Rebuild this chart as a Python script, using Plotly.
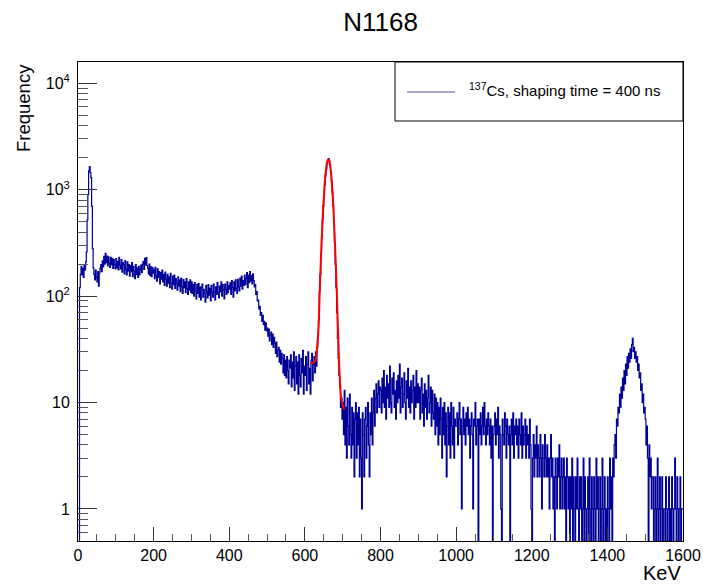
import numpy as np
import plotly.graph_objects as go

# ---------------- data ----------------
BIN_WIDTH_KEV = 2
X_MIN_KEV, X_MAX_KEV = 0, 1600

counts_0_100 = [0, 0, 120, 160, 190, 158, 182, 150, 196, 176,
                210, 260, 520, 900, 1500, 1650, 1450, 1300, 700, 280,
                184, 160, 142, 176, 150, 136, 170, 124, 164, 182,
                198, 170, 214, 188, 236, 200, 252, 206, 238, 192,
                234, 204, 186, 232, 198, 226, 182, 220, 196, 180]
counts_100_200 = [225, 184, 212, 176, 232, 196, 180, 220, 168, 206,
                  198, 162, 216, 180, 158, 210, 172, 198, 154, 194,
                  170, 206, 152, 190, 172, 146, 198, 160, 184, 150,
                  190, 158, 178, 196, 166, 200, 212, 178, 226, 196,
                  230, 194, 182, 162, 200, 156, 188, 152, 186, 164]
counts_200_300 = [178, 146, 186, 156, 138, 180, 150, 170, 130, 166,
                  144, 176, 136, 160, 126, 168, 144, 124, 160, 132,
                  152, 120, 164, 132, 116, 154, 128, 158, 118, 146,
                  130, 114, 152, 124, 142, 110, 148, 122, 106, 144,
                  120, 136, 108, 146, 118, 104, 136, 114, 142, 108]
counts_300_400 = [136, 106, 128, 100, 134, 112, 94, 128, 106, 132,
                  98, 122, 92, 120, 130, 98, 116, 106, 88, 126,
                  110, 96, 128, 102, 118, 90, 126, 108, 98, 130,
                  110, 92, 122, 104, 134, 108, 96, 124, 110, 136,
                  100, 128, 114, 94, 130, 116, 104, 136, 108, 126]
counts_400_500 = [116, 134, 104, 140, 120, 98, 136, 112, 142, 118,
                  106, 144, 122, 112, 148, 124, 154, 116, 140, 126,
                  158, 128, 146, 166, 120, 158, 134, 170, 138, 156,
                  130, 162, 140, 122, 128, 104, 110, 90, 92, 76,
                  80, 66, 70, 58, 66, 54, 58, 48, 56, 47]
counts_500_600 = [50, 42, 49, 38, 43, 46, 35, 44, 33, 41,
                  36, 29, 37, 27, 31, 33, 24, 31, 23, 29,
                  26, 19, 28, 18, 25, 17, 27, 20, 15, 25,
                  21, 28, 14, 24, 17, 30, 13, 22, 27, 15,
                  24, 12, 28, 18, 14, 26, 19, 31, 12, 22]
counts_600_700 = [18, 27, 13, 23, 30, 15, 21, 12, 25, 29,
                  16, 23, 27, 19, 30, 22, 33, 42, 60, 110,
                  160, 250, 360, 520, 700, 900, 1120, 1350, 1560, 1750,
                  1900, 1960, 1870, 1720, 1480, 1200, 950, 700, 480, 320,
                  200, 120, 70, 40, 26, 18, 14, 9, 11, 7]
counts_700_800 = [10, 5, 13, 4, 9, 3, 11, 6, 4, 12,
                  5, 3, 9, 4, 8, 2, 7, 10, 3, 8,
                  4, 9, 2, 7, 3, 1, 8, 5, 2, 7,
                  9, 3, 6, 10, 4, 2, 8, 5, 11, 4,
                  8, 13, 6, 11, 15, 8, 12, 16, 9, 14]
counts_800_900 = [13, 8, 17, 10, 20, 9, 14, 7, 18, 11,
                  15, 9, 22, 10, 8, 17, 12, 19, 9, 13,
                  7, 16, 10, 18, 11, 23, 8, 14, 17, 9,
                  12, 19, 10, 7, 16, 11, 21, 9, 14, 8,
                  16, 10, 13, 18, 7, 14, 9, 20, 10, 15]
counts_900_1000 = [10, 14, 7, 13, 17, 8, 12, 6, 15, 9,
                   13, 7, 11, 18, 8, 10, 14, 6, 13, 8,
                   7, 12, 5, 11, 6, 10, 4, 9, 5, 11,
                   7, 3, 9, 5, 10, 4, 8, 2, 6, 9,
                   4, 8, 3, 10, 6, 4, 9, 3, 7, 6]
counts_1000_1100 = [6, 8, 4, 7, 10, 5, 7, 1, 6, 9,
                    5, 7, 4, 8, 6, 9, 5, 7, 3, 6,
                    8, 5, 1, 7, 6, 10, 4, 6, 7, 0,
                    7, 5, 8, 4, 6, 9, 5, 10, 6, 4,
                    7, 5, 8, 6, 4, 7, 3, 6, 0, 5]
counts_1100_1200 = [6, 8, 4, 7, 5, 9, 3, 6, 5, 1,
                    0, 7, 5, 4, 8, 6, 3, 7, 5, 4,
                    6, 0, 5, 7, 4, 8, 3, 6, 5, 7,
                    4, 6, 3, 7, 5, 4, 8, 3, 6, 4,
                    5, 7, 3, 6, 4, 5, 3, 7, 4, 1]
counts_1200_1300 = [0, 3, 5, 2, 4, 3, 6, 2, 4, 3,
                    2, 5, 3, 1, 4, 3, 2, 5, 3, 2,
                    4, 2, 3, 1, 3, 5, 2, 3, 1, 2,
                    0, 3, 2, 1, 3, 2, 4, 1, 2, 3,
                    1, 2, 3, 1, 2, 0, 3, 2, 1, 2]
counts_1300_1400 = [0, 2, 1, 3, 0, 2, 1, 0, 2, 1,
                    3, 1, 0, 2, 1, 2, 0, 1, 3, 0,
                    2, 1, 0, 1, 2, 0, 3, 1, 0, 2,
                    1, 0, 2, 1, 0, 3, 1, 2, 0, 1,
                    2, 0, 1, 3, 0, 1, 2, 0, 1, 0]
counts_1400_1500 = [2, 1, 0, 3, 1, 2, 0, 3, 2, 4,
                    5, 3, 7, 6, 9, 8, 12, 9, 14, 11,
                    17, 13, 20, 15, 23, 18, 27, 21, 29, 24,
                    32, 26, 35, 40, 30, 33, 26, 30, 24, 27,
                    20, 23, 17, 19, 13, 15, 10, 12, 8, 9]
counts_1500_1600 = [7, 4, 6, 3, 0, 4, 2, 3, 1, 2,
                    2, 0, 1, 2, 0, 1, 3, 0, 1, 2,
                    0, 1, 2, 0, 1, 1, 0, 2, 1, 0,
                    1, 2, 0, 1, 0, 2, 1, 0, 1, 3,
                    1, 0, 2, 1, 0, 1, 2, 0, 1, 1]

# Gaussian fit of the 662 keV photopeak
fit_kev = [616, 622, 628, 632, 636, 640, 644, 648, 652, 656, 660, 662,
           664, 668, 672, 676, 680, 684, 688, 692, 696, 700, 704]
fit_counts = [24, 23.5, 25, 32, 50, 134, 307, 627, 1080, 1570, 1880, 1920,
              1880, 1560, 1070, 610, 290, 120, 44, 18, 11, 9.5, 8.6]

title_text = "N1168"
legend_text = "<sup>137</sup>Cs, shaping time = 400 ns"
x_title = "KeV"
y_title = "Frequency"
x_tick_vals = [0, 200, 400, 600, 800, 1000, 1200, 1400, 1600]
y_tick_vals = [1, 10, 100, 1000, 10000]
y_tick_text = ["1", "10", "10<sup>2</sup>", "10<sup>3</sup>", "10<sup>4</sup>"]

# ---------------- build ----------------
counts = np.concatenate([counts_0_100, counts_100_200, counts_200_300, counts_300_400,
                         counts_400_500, counts_500_600, counts_600_700, counts_700_800,
                         counts_800_900, counts_900_1000, counts_1000_1100,
                         counts_1100_1200, counts_1200_1300, counts_1300_1400,
                         counts_1400_1500, counts_1500_1600]).astype(float)
edges = np.arange(X_MIN_KEV, X_MAX_KEV + BIN_WIDTH_KEV, BIN_WIDTH_KEV)
# empty bins are drawn down to (below) the frame bottom, as ROOT does on a log axis
y_draw = np.where(counts > 0, counts, 0.1)
x_step = edges
y_step = np.append(y_draw, y_draw[-1])

FONT = "Liberation Sans, Arial, Helvetica, sans-serif"
HIST_COLOR = "#000099"

fig = go.Figure()
fig.add_trace(go.Scatter(x=x_step, y=y_step, mode="lines",
                         line=dict(color=HIST_COLOR, width=1.2, shape="hv"),
                         showlegend=False, hoverinfo="skip"))
fig.add_trace(go.Scatter(x=fit_kev, y=fit_counts, mode="lines",
                         line=dict(color="#ff0000", width=2, shape="spline"),
                         showlegend=False, hoverinfo="skip"))

W, H = 708, 584
L, R, T, B = 78, 25, 62, 43
pw, ph = W - L - R, H - T - B

def px(x):
    return (x - L) / pw

def py(y):
    return (H - B - y) / ph

minor_y = []
for d in range(-1, 5):
    for m in range(2, 10):
        v = m * 10.0 ** d
        if 0.5 <= v <= 15800:
            minor_y.append(v)

fig.update_layout(
    width=W, height=H,
    margin=dict(l=L, r=R, t=T, b=B, autoexpand=False),
    paper_bgcolor="white", plot_bgcolor="white",
    font=dict(family=FONT, color="black", size=16),
    title=dict(text=title_text, x=(L + pw * px(380.5)) / W, xanchor="center",
               y=1 - 22 / H, yanchor="middle", font=dict(size=26, family=FONT)),
    xaxis=dict(range=[X_MIN_KEV, X_MAX_KEV], showgrid=False, zeroline=False,
               showline=True, linecolor="black", linewidth=1, mirror=True,
               ticks="inside", ticklen=14, tickcolor="#333", tickwidth=1,
               tickvals=x_tick_vals, tickfont=dict(size=16), automargin=False,
               minor=dict(ticks="inside", ticklen=7, tickcolor="#555", dtick=50, showgrid=False)),
    yaxis=dict(type="log", range=[np.log10(0.5), 4.2], showgrid=False, zeroline=False,
               showline=True, linecolor="black", linewidth=1, mirror=True,
               ticks="inside", ticklen=19, tickcolor="#333", tickwidth=1,
               tickvals=y_tick_vals, ticktext=y_tick_text, tickfont=dict(size=16),
               ticklabelstandoff=4, automargin=False,
               minor=dict(ticks="inside", ticklen=10, tickcolor="#555",
                          tickvals=minor_y, showgrid=False)),
)

# axis titles (ROOT style: at the end of the axes)
fig.add_annotation(text=x_title, xref="paper", yref="paper", x=1.0, y=py(573),
                   xanchor="right", yanchor="middle", showarrow=False,
                   font=dict(size=20, family=FONT))
fig.add_annotation(text=y_title, xref="paper", yref="paper", x=px(23), y=1.0,
                   xanchor="center", yanchor="top", textangle=-90, showarrow=False,
                   font=dict(size=18.5, family=FONT))

# legend box
fig.add_shape(type="rect", xref="paper", yref="paper", x0=px(395), x1=1.0,
              y0=py(121), y1=1.0, line=dict(color="black", width=1),
              fillcolor="white", layer="above")
fig.add_shape(type="line", xref="paper", yref="paper", x0=px(407), x1=px(455),
              y0=py(92), y1=py(92), line=dict(color="#8c8cc8", width=1.5), layer="above")
fig.add_annotation(text=legend_text, xref="paper", yref="paper", x=px(467), y=py(90),
                   xanchor="left", yanchor="middle", showarrow=False,
                   font=dict(size=15, family=FONT))

fig.write_html("out.html", config={"displayModeBar": False},
               post_script="document.body.style.margin='0';")
